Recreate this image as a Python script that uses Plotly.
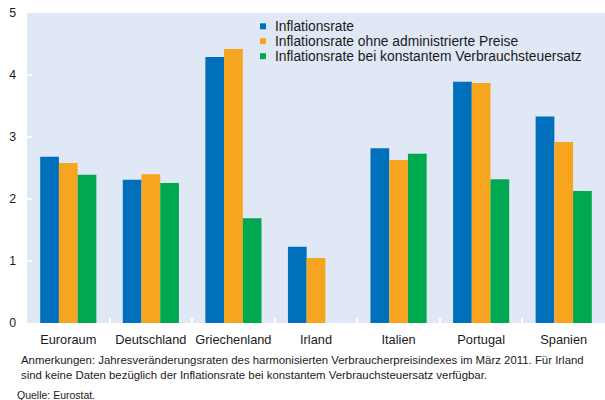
import plotly.graph_objects as go

categories = ["Euroraum", "Deutschland", "Griechenland", "Irland", "Italien", "Portugal", "Spanien"]
inflationsrate = [2.68, 2.31, 4.29, 1.23, 2.82, 3.89, 3.33]
ohne_admin = [2.58, 2.40, 4.42, 1.05, 2.63, 3.87, 2.92]
konst_steuer = [2.39, 2.26, 1.69, None, 2.73, 2.32, 2.13]
series_names = ["Inflationsrate", "Inflationsrate ohne administrierte Preise",
                "Inflationsrate bei konstantem Verbrauchsteuersatz"]
colors = ["#0070BA", "#F7A51E", "#00A84F"]
y_ticks = [0, 1, 2, 3, 4, 5]

W, H = 605, 400
ML, MR, MT, MB = 27, 0, 13, 77
PW, PH = W - ML - MR, H - MT - MB


def px(xp):
    return (xp - ML) / PW


def py(yp):
    return (H - MB - yp) / PH


fig = go.Figure()
for name, vals, c in zip(series_names, [inflationsrate, ohne_admin, konst_steuer], colors):
    fig.add_trace(go.Bar(x=categories, y=vals, name=name,
                         marker=dict(color=c, line=dict(width=0)), showlegend=False))

fig.update_layout(
    width=W, height=H,
    margin=dict(l=ML, r=MR, t=MT, b=MB, autoexpand=False),
    plot_bgcolor="#E1E8F5", paper_bgcolor="white",
    barmode="group", bargap=0.32, bargroupgap=0,
    font=dict(family="Liberation Sans, Arial", size=12, color="#1a1a1a"),
    showlegend=False,
    xaxis=dict(showgrid=False, ticks="inside", tickson="boundaries", tickcolor="white",
               ticklen=5, tickwidth=2, tickfont=dict(size=12.8), zeroline=False,
               tickangle=0, automargin=False, ticklabelstandoff=7),
    yaxis=dict(range=[0, 5], tickvals=y_ticks, showgrid=False, zeroline=False,
               ticks="inside", tickcolor="white", ticklen=5, tickwidth=2,
               tickfont=dict(size=12.3), automargin=False, ticklabelstandoff=10),
)

# legend drawn as squares + text
leg_y = [26.3, 41.2, 56.2]
for name, c, yc in zip(series_names, colors, leg_y):
    fig.add_shape(type="rect", xref="paper", yref="paper",
                  x0=px(260), x1=px(266), y0=py(yc + 3), y1=py(yc - 3),
                  fillcolor=c, line=dict(width=0))
    fig.add_annotation(xref="paper", yref="paper", x=px(273), y=py(yc + 0.5),
                       xanchor="left", yanchor="middle", showarrow=False,
                       text=name, font=dict(size=13.8, color="#1a1a1a"))

fig.add_annotation(xref="paper", yref="paper", x=px(19), y=py(367), xanchor="left", yanchor="middle",
                   align="left", showarrow=False, font=dict(size=11.4, color="#1a1a1a"),
                   text="Anmerkungen: Jahresveränderungsraten des harmonisierten Verbraucherpreisindexes im März 2011. Für Irland<br>"
                        "sind keine Daten bezüglich der Inflationsrate bei konstantem Verbrauchsteuersatz verfügbar.")
fig.add_annotation(xref="paper", yref="paper", x=px(15), y=py(395), xanchor="left", yanchor="middle",
                   align="left", showarrow=False, font=dict(size=10.5, color="#1a1a1a"),
                   text="Quelle: Eurostat.")
fig.write_html("out.html", config={"displayModeBar": False},
               post_script="document.body.style.margin='0';")
